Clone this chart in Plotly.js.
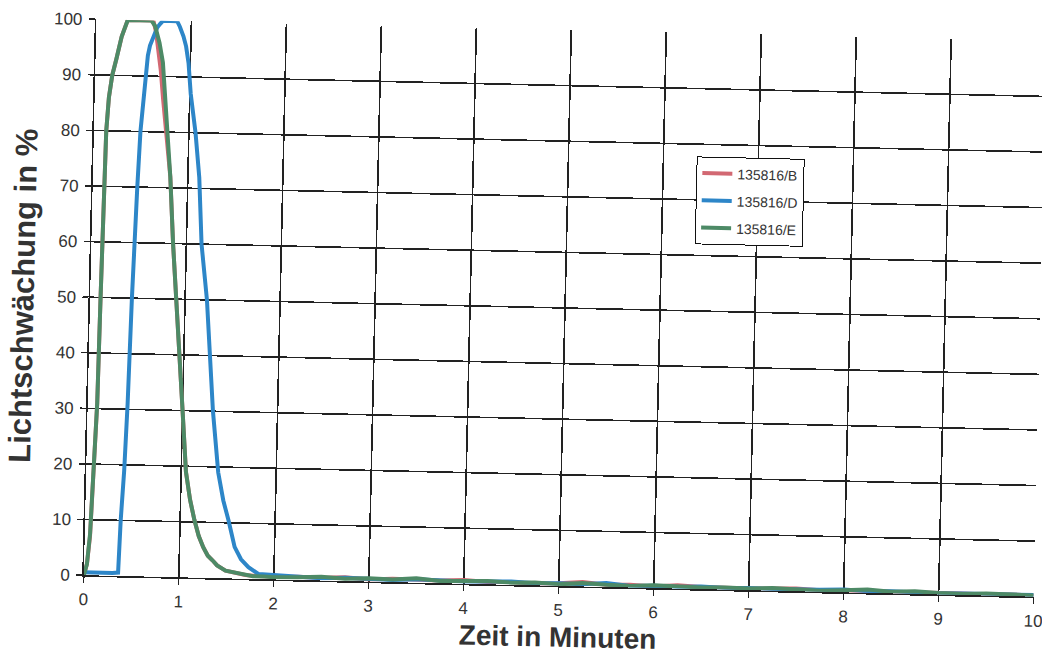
<!DOCTYPE html>
<html>
<head>
<meta charset="utf-8">
<script src="https://cdn.plot.ly/plotly-3.0.1.min.js"></script>
<style>
  html, body { margin: 0; padding: 0; background: #ffffff; overflow: hidden; width: 1042px; height: 662px; }
  #chart { position: absolute; left: 0; top: 0; width: 1072px; height: 662px;
           transform: rotate(1.3deg); transform-origin: 565px 308px; }
</style>
</head>
<body>
<div id="chart"></div>
<script>
// ---- data ----
const seriesNames = ["135816/B", "135816/D", "135816/E"];

// 135816/B (red)
const timeB = [0, 0.03, 0.056, 0.08, 0.1, 0.11, 0.12, 0.13, 0.15, 0.18, 0.22, 0.27, 0.33, 0.45, 0.6, 0.63, 0.66, 0.69, 0.72, 0.76, 0.815, 0.86, 0.91, 0.95, 1.0, 1.05, 1.1, 1.15, 1.2, 1.25, 1.3, 1.35, 1.4, 1.49, 1.6, 1.7, 1.78, 1.9, 2.0];
const valB  = [0, 2, 7, 19, 31, 50, 70, 80, 86, 90, 93, 97, 100, 100, 100, 98, 95, 91, 86, 80, 72, 60, 50, 40, 30, 19, 14, 10.4, 7.5, 5.5, 4, 3.2, 2.3, 1.4, 1.0, 0.7, 0.6, 0.5, 0.5];

// 135816/D (blue)
const timeD = [0, 0.1, 0.2, 0.3, 0.36, 0.375, 0.4, 0.42, 0.44, 0.46, 0.47, 0.49, 0.52, 0.55, 0.57, 0.6, 0.64, 0.67, 0.7, 0.78, 0.85, 0.88, 0.92, 0.95, 0.98, 1.01, 1.07, 1.12, 1.16, 1.23, 1.28, 1.32, 1.39, 1.45, 1.51, 1.58, 1.65, 1.73, 1.84, 1.95, 2.05];
const valD  = [0.5, 0.5, 0.4, 0.5, 0.6, 10, 19, 31, 50, 65.5, 70, 80, 87, 93.7, 95.5, 97, 98.7, 99.4, 100, 100, 100, 99, 97.3, 95.5, 92.5, 87, 80, 72, 60, 50, 40, 30, 19, 14, 10.4, 5.7, 3.5, 2.1, 0.9, 0.8, 0.7];

// 135816/E (green)
const timeE = [0, 0.03, 0.056, 0.08, 0.1, 0.11, 0.12, 0.13, 0.15, 0.18, 0.22, 0.27, 0.33, 0.45, 0.58, 0.62, 0.67, 0.71, 0.74, 0.78, 0.815, 0.86, 0.91, 0.95, 1.0, 1.05, 1.1, 1.15, 1.2, 1.25, 1.3, 1.35, 1.4, 1.49, 1.6, 1.7, 1.78, 1.9, 2.0];
const valE  = [0, 2, 7.5, 19, 31, 50, 70, 80, 86, 90, 93, 97, 100, 100, 100, 99, 96, 92.5, 87, 80, 72, 60, 50, 40, 30, 19, 14, 10.4, 7.5, 5.5, 4, 3.2, 2.3, 1.4, 1.0, 0.7, 0.5, 0.5, 0.4];

// slow tail after 2 minutes (hand-read, near the baseline)
const tailTime = [2.25, 2.5, 2.75, 3, 3.25, 3.5, 3.75, 4, 4.25, 4.5, 4.75, 5, 5.25, 5.5, 5.75, 6, 6.25, 6.5, 6.75, 7, 7.25, 7.5, 7.75, 8, 8.25, 8.5, 8.75, 9, 9.25, 9.5, 9.75, 10];
const tailB = [0.6, 0.5, 0.7, 0.4, 0.6, 0.5, 0.5, 0.7, 0.4, 0.5, 0.3, 0.5, 0.8, 0.4, 0.5, 0.3, 0.6, 0.4, 0.3, 0.3, 0.4, 0.5, 0.3, 0.3, 0.4, 0.3, 0.3, 0.4, 0.3, 0.2, 0.3, 0.2];
const tailD = [0.5, 0.4, 0.6, 0.5, 0.4, 0.6, 0.5, 0.4, 0.5, 0.6, 0.4, 0.5, 0.4, 0.7, 0.3, 0.4, 0.3, 0.5, 0.3, 0.4, 0.3, 0.3, 0.4, 0.5, 0.3, 0.4, 0.3, 0.2, 0.3, 0.3, 0.2, 0.3];
const tailE = [0.5, 0.7, 0.4, 0.6, 0.5, 0.8, 0.4, 0.5, 0.6, 0.4, 0.5, 0.3, 0.6, 0.4, 0.3, 0.5, 0.4, 0.3, 0.4, 0.3, 0.5, 0.3, 0.2, 0.4, 0.6, 0.3, 0.5, 0.3, 0.2, 0.4, 0.3, 0.2];

const xTickVals = [0, 1, 2, 3, 4, 5, 6, 7, 8, 9, 10];
const yTickVals = [0, 10, 20, 30, 40, 50, 60, 70, 80, 90, 100];

// ---- styling ----
const colors = ["#d26872", "#2d86c8", "#4d8a66"];
const xs = [timeB.concat(tailTime), timeD.concat(tailTime), timeE.concat(tailTime)];
const ys = [valB.concat(tailB), valD.concat(tailD), valE.concat(tailE)];

const traces = seriesNames.map((n, i) => ({
  type: "scatter",
  mode: "lines",
  name: n,
  legendgroup: "g" + i,
  x: xs[i],
  y: ys[i],
  line: { color: colors[i], width: 4 },
  hoverinfo: "skip"
}));

const gridCol = "#222222";
const font = "Liberation Sans, Arial, sans-serif";

const layout = {
  width: 1072,
  height: 662,
  margin: { l: 90, r: 32, t: 30, b: 76 },
  paper_bgcolor: "rgba(0,0,0,0)",
  plot_bgcolor: "rgba(0,0,0,0)",
  font: { family: font, color: "#333333" },
  showlegend: true,
  legend: {
    x: 0.635, y: 0.778, xanchor: "left", yanchor: "top",
    bgcolor: "#ffffff", bordercolor: "#111111", borderwidth: 1,
    font: { family: font, size: 14, color: "#333333" },
    tracegroupgap: 6, traceorder: "grouped"
  },
  xaxis: {
    range: [0, 10],
    tickvals: xTickVals,
    ticktext: xTickVals.map(String),
    showgrid: true, gridcolor: gridCol, gridwidth: 1.6,
    showline: true, linecolor: gridCol, linewidth: 1.6,
    zeroline: false,
    ticks: "outside", ticklen: 6, tickcolor: gridCol, tickwidth: 1.5,
    ticklabelstandoff: 2,
    tickfont: { family: font, size: 17, color: "#333333" },
    title: { text: "Zeit in Minuten", standoff: 8,
             font: { family: font, size: 28, color: "#333333", weight: "bold" } }
  },
  yaxis: {
    range: [0, 100],
    tickvals: yTickVals,
    ticktext: yTickVals.map(String),
    showgrid: true, gridcolor: gridCol, gridwidth: 1.6,
    showline: true, linecolor: gridCol, linewidth: 1.6,
    zeroline: false,
    ticks: "outside", ticklen: 6, tickcolor: gridCol, tickwidth: 1.5,
    ticklabelstandoff: 3,
    tickfont: { family: font, size: 17, color: "#333333" },
    title: { text: "Lichtschwächung in %", standoff: 4,
             font: { family: font, size: 31, color: "#333333", weight: "bold" } }
  }
};

Plotly.newPlot("chart", traces, layout, { staticPlot: true, displayModeBar: false });
</script>
</body>
</html>
